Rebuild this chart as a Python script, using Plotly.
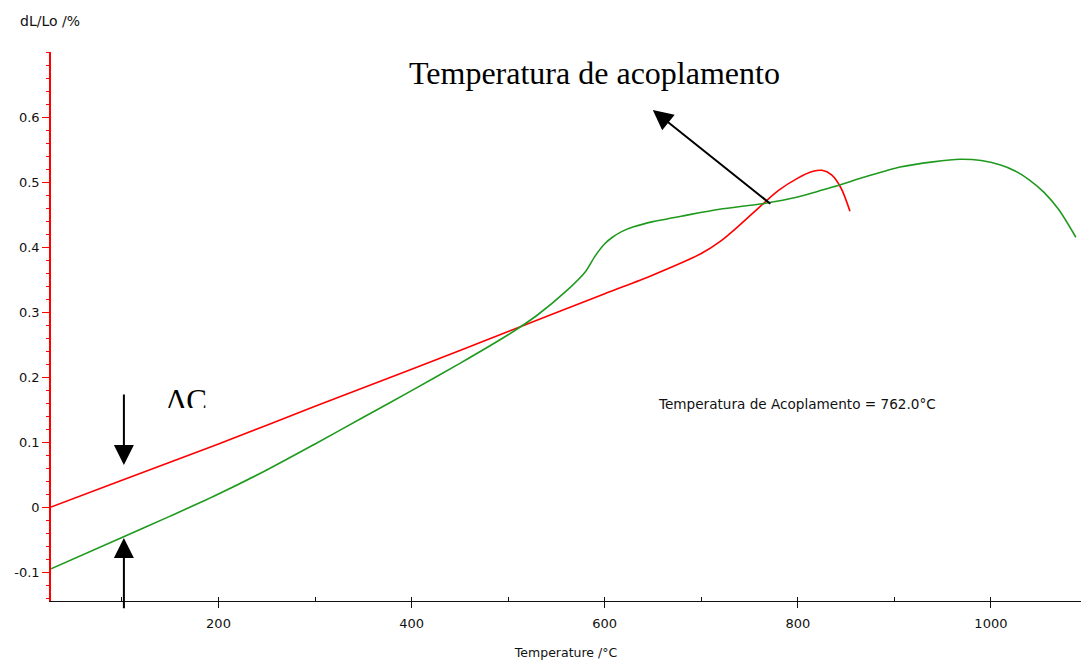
import plotly.graph_objects as go

# ---- data ----
red_temp = [26.5, 100, 200, 300, 400, 500, 600, 650, 700, 720, 740, 760, 780, 800,
            815, 825, 835, 845, 854]
red_dl = [0.0, 0.041, 0.097, 0.155, 0.212, 0.27, 0.328, 0.357, 0.39, 0.409, 0.434, 0.461,
          0.487, 0.506, 0.516, 0.518, 0.511, 0.49, 0.455]

green_temp = [26.5, 100, 150, 200, 250, 300, 350, 400, 450, 500, 530, 560, 580, 590, 600,
              608, 618, 630, 650, 685, 719, 765, 800, 840, 870, 906, 940, 968, 990, 1010,
              1025, 1040, 1055, 1070, 1088]
green_dl = [-0.095, -0.047, -0.014, 0.02, 0.057, 0.097, 0.138, 0.179, 0.221, 0.265, 0.295,
            0.332, 0.362, 0.386, 0.405, 0.415, 0.424, 0.431, 0.439, 0.449, 0.458, 0.467,
            0.477, 0.494, 0.508, 0.523, 0.531, 0.535, 0.533, 0.526, 0.517, 0.503, 0.484,
            0.458, 0.415]

y_ticks = [-0.1, 0, 0.1, 0.2, 0.3, 0.4, 0.5, 0.6]
y_labels = ["-0.1", "0", "0.1", "0.2", "0.3", "0.4", "0.5", "0.6"]
x_ticks = [200, 400, 600, 800, 1000]
x_labels = ["200", "400", "600", "800", "1000"]

coupling_temp = 762.0
title_text = "Temperatura de acoplamento"
result_text = "Temperatura de Acoplamento = %.1f°C" % coupling_temp

RED = "#ff0000"
GREEN = "#1f9a1f"
TICKFONT = dict(family="DejaVu Sans", size=13, color="#111111")

fig = go.Figure()
fig.add_trace(go.Scatter(x=red_temp, y=red_dl, mode="lines",
                         line=dict(color=RED, width=1.6, shape="spline", smoothing=0.8),
                         showlegend=False, hoverinfo="skip"))
fig.add_trace(go.Scatter(x=green_temp, y=green_dl, mode="lines",
                         line=dict(color=GREEN, width=1.6, shape="spline", smoothing=0.8),
                         showlegend=False, hoverinfo="skip"))
# clipped "ΔC" label (text in data layer, partly hidden by a white shape)
fig.add_trace(go.Scatter(x=[167], y=[0.16], mode="text", text=["ΔC"],
                         textposition="middle center",
                         textfont=dict(family="Liberation Serif", size=31, color="black"),
                         showlegend=False, hoverinfo="skip"))

fig.add_shape(type="rect", xref="x", yref="y", x0=137, x1=198, y0=0.128, y1=0.1523,
              fillcolor="white", line=dict(width=0), layer="above")

annotations = [
    # y axis title
    dict(text="dL/Lo /%", xref="paper", yref="paper", x=-0.001, y=1.0565,
         xanchor="center", yanchor="middle", showarrow=False,
         font=dict(family="DejaVu Sans", size=14, color="#111111")),
    # big label
    dict(text=title_text, xref="x", yref="y", x=589, y=0.668,
         xanchor="center", yanchor="middle", showarrow=False,
         font=dict(family="Liberation Serif", size=32, color="black")),
    # result text
    dict(text=result_text, xref="x", yref="y", x=653, y=0.1585,
         xanchor="left", yanchor="middle", showarrow=False,
         font=dict(family="DejaVu Sans", size=13.6, color="#111111")),
    # arrow to coupling temperature label
    dict(text="", xref="x", yref="y", x=649.8, y=0.6108, axref="x", ayref="y",
         ax=773.1, ay=0.4646, showarrow=True, arrowhead=2, arrowsize=2,
         arrowwidth=2, arrowcolor="black"),
    # down arrow (ΔC)
    dict(text="", xref="x", yref="y", x=102, y=0.0646, axref="x", ayref="y",
         ax=102, ay=0.1754, showarrow=True, arrowhead=2, arrowsize=2,
         arrowwidth=2, arrowcolor="black"),
    # up arrow (ΔC)
    dict(text="", xref="x", yref="y", x=102, y=-0.0477, axref="x", ayref="y",
         ax=102, ay=-0.158, showarrow=True, arrowhead=2, arrowsize=2,
         arrowwidth=2, arrowcolor="black"),
]

fig.update_layout(
    width=1081, height=662,
    margin=dict(l=51, r=0, t=52, b=61, pad=0),
    paper_bgcolor="white", plot_bgcolor="white",
    annotations=annotations,
    xaxis=dict(range=[26.5, 1093.3], tickvals=x_ticks, ticktext=x_labels,
               showgrid=False, zeroline=False, showline=True, linecolor="#111111",
               linewidth=1, ticks="outside", ticklen=6, tickcolor="#111111",
               tickfont=TICKFONT, ticklabelstandoff=4,
               minor=dict(dtick=100, tick0=0, ticks="inside", ticklen=4,
                          tickcolor="#111111", showgrid=False),
               title=dict(text="Temperature /°C", standoff=18,
                          font=dict(family="DejaVu Sans", size=12.5, color="#111111"))),
    yaxis=dict(range=[-0.1446, 0.7], tickvals=y_ticks, ticktext=y_labels,
               showgrid=False, zeroline=False, showline=True, linecolor=RED,
               linewidth=1.5, ticks="outside", ticklen=7, tickcolor=RED,
               tickfont=TICKFONT,
               minor=dict(dtick=0.02, tick0=0, ticks="outside", ticklen=3,
                          tickcolor=RED, showgrid=False)),
)

fig.write_html("out.html")
